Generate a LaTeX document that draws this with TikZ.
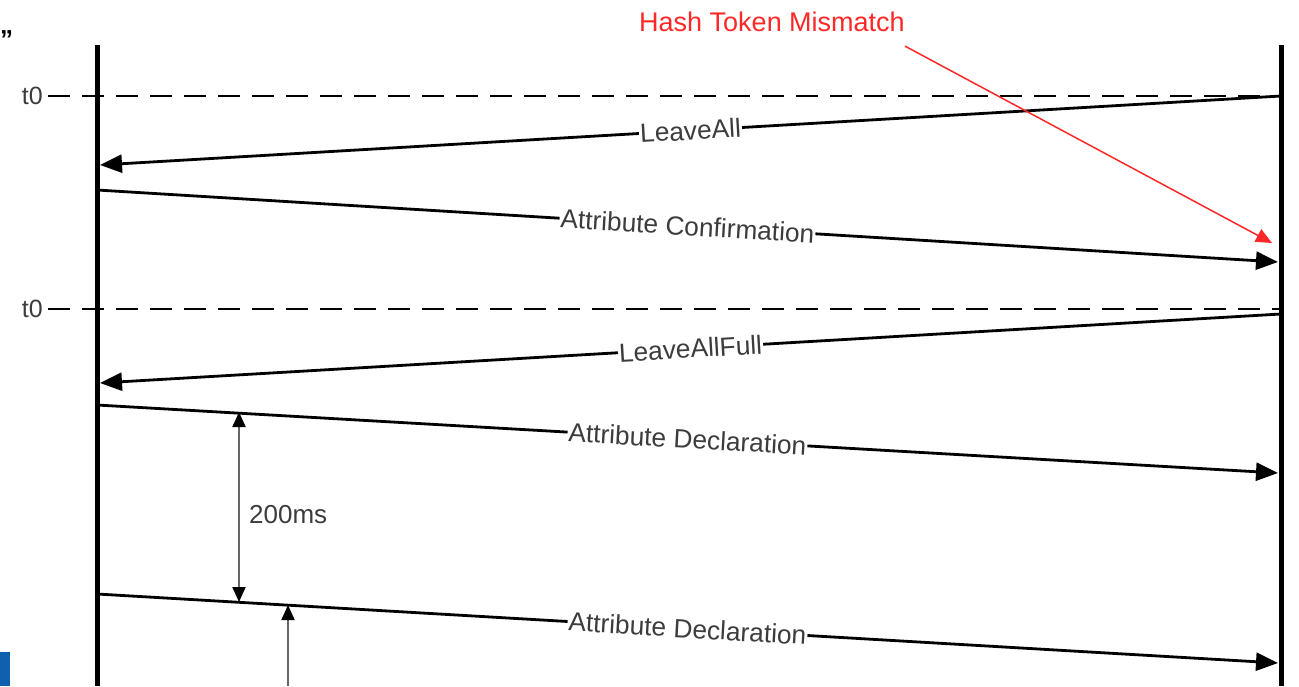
\documentclass[tikz,border=0pt]{standalone}
\usepackage{fontspec}
\setmainfont{Liberation Sans}
\usetikzlibrary{arrows.meta}
\definecolor{txtgrey}{RGB}{60,60,60}
\definecolor{hashred}{RGB}{255,40,40}
\definecolor{edgeblue}{RGB}{16,96,176}
\begin{document}
\begin{tikzpicture}[x=1pt,y=-1pt,
  lifeline/.style={line width=5pt,black},
  msg/.style={line width=2.8pt,black,-{Triangle[length=22pt,width=18pt]}},
  lbl/.style={fill=white,text=txtgrey,font=\fontsize{26.3}{30}\selectfont,inner sep=1pt,sloped},
  tline/.style={line width=1.8pt,black,dash pattern=on 22pt off 12pt},
  tlbl/.style={text=txtgrey,font=\fontsize{25}{30}\selectfont,inner sep=0pt,anchor=east},
  span/.style={line width=2pt,black!60,{Triangle[length=15pt,width=13pt,black]}-{Triangle[length=15pt,width=13pt,black]}},
  up/.style={line width=2pt,black!60,-{Triangle[length=15pt,width=13pt,black]}},
  note/.style={text=hashred,font=\fontsize{27}{30}\selectfont,inner sep=0pt},
  notearrow/.style={line width=1.5pt,hashred,-{Triangle[length=16pt,width=14pt]}}]
\useasboundingbox (0,0) rectangle (1299,686);

% edge artefacts
\fill[edgeblue] (0,652) rectangle (10,686);
\node[font=\bfseries\fontsize{26}{26}\selectfont,inner sep=0pt,anchor=west] (quote) at (0,40) {”};

% lifelines
\coordinate (Ltop) at (97,45);
\coordinate (Lbot) at (97,686);
\coordinate (Rtop) at (1281,45);
\coordinate (Rbot) at (1281,686);
\draw[lifeline] (Ltop) -- (Lbot);
\draw[lifeline] (Rtop) -- (Rbot);

% t0 markers
\node[tlbl] (t0a) at (43,96) {t0};
\node[tlbl] (t0b) at (43,309) {t0};
\coordinate (t0aR) at (1281,96);
\coordinate (t0bR) at (1281,309);
\draw[tline] (t0a.east) ++(5,0) -- (t0aR);
\draw[tline] (t0b.east) ++(5,0) -- (t0bR);

% messages
\coordinate (m1s) at (1281,96);  \coordinate (m1e) at (100,165);
\coordinate (m2s) at (97,190);   \coordinate (m2e) at (1278,262);
\coordinate (m3s) at (1281,314); \coordinate (m3e) at (100,383);
\coordinate (m4s) at (97,405);   \coordinate (m4e) at (1278,473);
\coordinate (m5s) at (97,594);   \coordinate (m5e) at (1278,663);

\draw[msg] (m1s) -- node[lbl] (l1) {LeaveAll} (m1e);
\draw[msg] (m2s) -- node[lbl] (l2) {Attribute Confirmation} (m2e);
\draw[msg] (m3s) -- node[lbl] (l3) {LeaveAllFull} (m3e);
\draw[msg] (m4s) -- node[lbl] (l4) {Attribute Declaration} (m4e);
\draw[msg] (m5s) -- node[lbl] (l5) {Attribute Declaration} (m5e);

% 200ms interval
\coordinate (s1) at (239,412);
\coordinate (s2) at (239,602);
\draw[span] (s1) -- (s2);
\node[text=txtgrey,font=\fontsize{26}{30}\selectfont,anchor=west,inner sep=0pt] (ms) at (249,515) {200ms};

% arrow from below
\coordinate (u1) at (288,686);
\coordinate (u2) at (288,605);
\draw[up] (u1) -- (u2);

% hash token note
\node[note] (hash) at (772,22) {Hash Token Mismatch};
\coordinate (hashtip) at (1272,243);
\draw[notearrow] (hash.south east) ++(0,14) -- (hashtip);
\end{tikzpicture}
\end{document}
